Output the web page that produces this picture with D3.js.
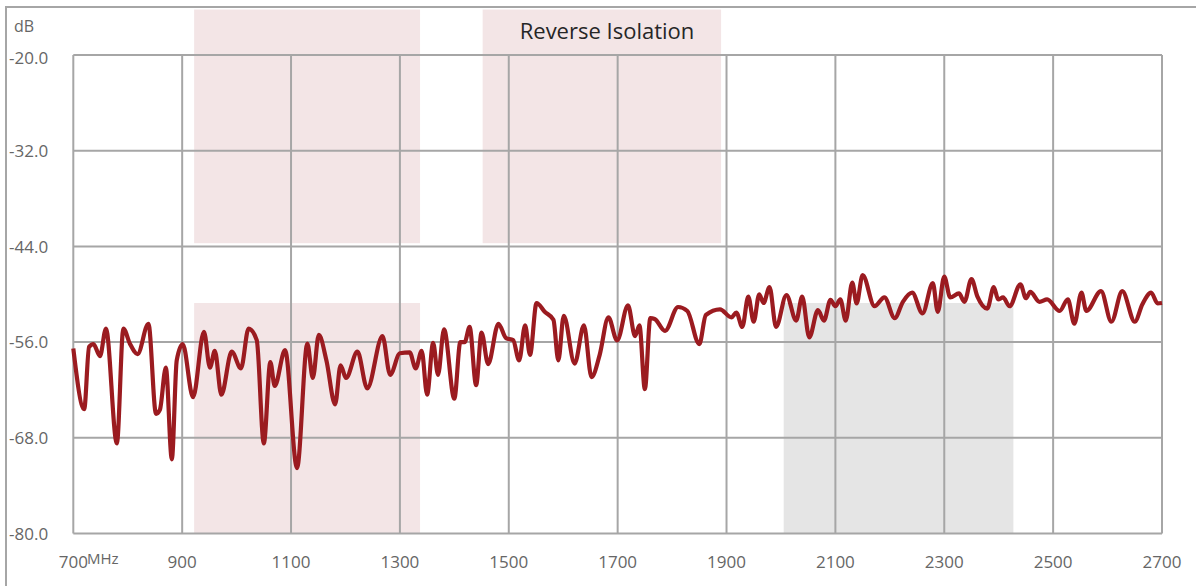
<!DOCTYPE html>
<html>
<head>
<meta charset="utf-8">
<script src="https://cdn.jsdelivr.net/npm/d3@7"></script>
<style>
  body { margin: 0; background: #fff; }
  svg { display: block; font-family: "Open Sans", sans-serif; }
</style>
</head>
<body>
<svg id="chart" width="1196" height="586"></svg>
<script>
// Reverse isolation sweep
const freqs = [700, 720, 729, 737, 749, 760, 780, 792, 804, 818, 838, 852, 859, 870, 881, 890, 901,
  920, 940, 951, 960, 972, 991, 1008, 1022, 1037, 1050, 1062, 1070, 1089, 1111, 1130, 1140, 1151,
  1165, 1181, 1191, 1201, 1222, 1240, 1268, 1282, 1300, 1318, 1329, 1340, 1350, 1361, 1370, 1381,
  1400, 1411, 1419, 1428, 1440, 1450, 1462, 1481, 1495, 1508, 1519, 1530, 1539, 1551, 1566, 1582,
  1591, 1601, 1621, 1638, 1652, 1667, 1683, 1699, 1719, 1732, 1740, 1750, 1760, 1768, 1787, 1811,
  1828, 1850, 1862, 1888, 1909, 1918, 1929, 1940, 1950, 1960, 1968, 1979, 1991, 2010, 2028, 2039,
  2052, 2068, 2079, 2091, 2100, 2109, 2119, 2131, 2139, 2150, 2172, 2190, 2209, 2224, 2241, 2260,
  2279, 2288, 2300, 2311, 2327, 2337, 2350, 2361, 2379, 2391, 2399, 2408, 2420, 2440, 2450, 2458,
  2475, 2489, 2512, 2527, 2539, 2552, 2561, 2588, 2607, 2627, 2650, 2664, 2680, 2692, 2700];
const isolation = [-56.8, -64.4, -56.6, -56.25, -57.75, -54.3, -68.7, -54.3, -56.2, -57.5, -53.7, -65.0, -64.5, -59.2, -70.7, -58.3, -56.25,
  -62.9, -54.7, -59.2, -57.1, -62.6, -57.2, -59.3, -54.3, -55.75, -68.7, -58.5, -61.5, -57.0, -71.8, -56.2, -60.5, -55.1,
  -58.3, -63.8, -58.9, -60.5, -57.2, -61.8, -55.25, -60.1, -57.4, -57.3, -59.3, -57.1, -62.6, -56.1, -60.1, -54.4,
  -63.1, -56.0, -56.0, -54.1, -61.4, -54.8, -58.75, -53.7, -55.5, -55.75, -58.3, -53.9, -57.6, -51.1, -52.2, -53.2,
  -58.3, -52.7, -58.7, -53.9, -60.4, -57.6, -52.9, -55.8, -51.4, -55.25, -53.9, -61.9, -53.0, -53.1, -54.6, -51.6,
  -52.1, -56.25, -52.6, -51.9, -52.9, -52.3, -54.1, -50.3, -53.45, -50.0, -51.1, -49.1, -54.1, -50.1, -53.3, -50.3,
  -55.4, -52.0, -53.3, -50.7, -51.5, -50.65, -53.3, -48.55, -51.15, -47.6, -51.5, -50.4, -53.0, -50.95, -49.8, -52.4,
  -48.6, -52.2, -47.8, -50.4, -49.9, -50.95, -48.1, -50.3, -51.8, -49.1, -50.65, -50.4, -51.5, -48.75, -50.5, -49.7,
  -50.95, -50.65, -52.1, -50.65, -53.7, -49.8, -52.1, -49.6, -53.45, -49.6, -53.45, -51.25, -49.8, -51.15, -51.1];

const xTicks = [700, 900, 1100, 1300, 1500, 1700, 1900, 2100, 2300, 2500, 2700];
const yTicks = [-80, -68, -56, -44, -32, -20];

// shaded spec windows: [fromMHz, toMHz, lowdB, highdB]
const passBands = [[922, 1337, -43.6, -14.3], [922, 1337, -80, -51.1], [1452, 1890, -43.6, -14.3]];
const greyBands = [[2005, 2427, -80, -51.1]];

const svg = d3.select("#chart");
const W = 1196, H = 586;

const x = d3.scaleLinear().domain([700, 2700]).range([73.3, 1162]);
const y = d3.scaleLinear().domain([-80, -20]).range([533.5, 55]);

// outer frame
svg.append("rect")
    .attr("x", 6).attr("y", 7)
    .attr("width", W).attr("height", H)
    .attr("fill", "none")
    .attr("stroke", "#a6a6a6")
    .attr("stroke-width", 2);

function drawBands(list, color) {
    svg.append("g").selectAll("rect")
        .data(list)
        .enter().append("rect")
        .attr("x", d => x(d[0]))
        .attr("width", d => x(d[1]) - x(d[0]))
        .attr("y", d => y(d[3]))
        .attr("height", d => y(d[2]) - y(d[3]))
        .attr("fill", color);
}
drawBands(passBands, "#f3e5e6");
drawBands(greyBands, "#e5e5e5");

// grid
const grid = svg.append("g").attr("stroke", "#a6a6a6").attr("stroke-width", 2);
grid.selectAll(".v")
    .data(xTicks)
    .enter().append("line")
    .attr("x1", d => x(d)).attr("x2", d => x(d))
    .attr("y1", y(-20)).attr("y2", y(-80));
grid.selectAll(".h")
    .data(yTicks)
    .enter().append("line")
    .attr("x1", x(700)).attr("x2", x(2700))
    .attr("y1", d => y(d)).attr("y2", d => y(d));

// tick labels (plain hyphen like the original, not d3's unicode minus)
const fmt = d3.format(".1f");
svg.append("g").selectAll("text")
    .data(yTicks)
    .enter().append("text")
    .attr("x", 9)
    .attr("y", d => y(d) + (d === -20 ? 3 : 0))
    .attr("dy", "0.36em")
    .attr("font-size", 17)
    .attr("fill", "#666")
    .text(d => fmt(d).replace("\u2212", "-"));

svg.append("g").selectAll("text")
    .data(xTicks)
    .enter().append("text")
    .attr("x", d => x(d))
    .attr("y", 568)
    .attr("text-anchor", "middle")
    .attr("font-size", 17)
    .attr("fill", "#666")
    .text(d => d);

svg.append("text")
    .attr("x", 87).attr("y", 564)
    .attr("font-size", 15)
    .attr("fill", "#666")
    .text("MHz");

svg.append("text")
    .attr("x", 14).attr("y", 32)
    .attr("font-size", 16)
    .attr("fill", "#666")
    .text("dB");

svg.append("text")
    .attr("x", 607).attr("y", 39)
    .attr("text-anchor", "middle")
    .attr("font-size", 22)
    .attr("fill", "#262626")
    .text("Reverse Isolation");

// trace
const line = d3.line()
    .x((d, i) => x(freqs[i]))
    .y(d => y(d))
    .curve(d3.curveMonotoneX);

svg.append("path")
    .datum(isolation)
    .attr("d", line)
    .attr("fill", "none")
    .attr("stroke", "#9b1b20")
    .attr("stroke-width", 4.2)
    .attr("stroke-linejoin", "round");
</script>
</body>
</html>
